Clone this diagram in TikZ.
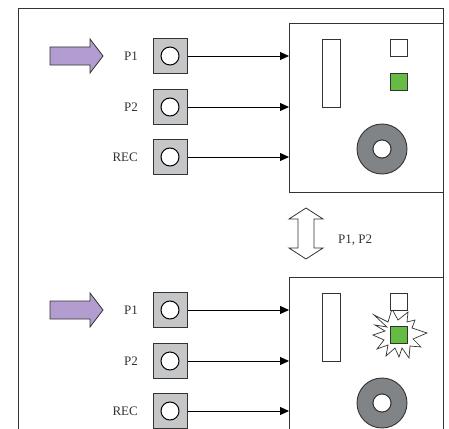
\documentclass[tikz,border=0pt]{standalone}
\usepackage{fontspec}
\setmainfont{Liberation Serif}
\usetikzlibrary{arrows.meta}
\definecolor{lav}{HTML}{B39DD0}
\definecolor{btngray}{HTML}{C4C6C8}
\definecolor{knob}{HTML}{808486}
\definecolor{ledgreen}{HTML}{66BB44}
\definecolor{linecol}{HTML}{333333}
\tikzset{
  lbl/.style={font=\fontsize{13}{14}\selectfont, text=black!80, anchor=east, inner sep=0pt},
  btn/.style={draw=linecol, line width=1pt, fill=btngray, minimum width=34pt, minimum height=35pt, inner sep=0pt},
  hole/.style={draw=black, line width=1pt, fill=white, circle, minimum size=18pt, inner sep=0pt},
  conn/.style={line width=0.8pt, -{Triangle[length=9pt,width=8pt]}},
  devbox/.style={draw=linecol, line width=0.9pt, fill=white},
  slot/.style={draw=linecol, line width=0.9pt, fill=white, minimum width=18pt, minimum height=68pt, inner sep=0pt},
  led/.style={draw=linecol, line width=0.8pt, minimum size=17pt, inner sep=0pt},
  purple/.style={draw=linecol, line width=0.8pt, fill=lav},
}
\begin{document}
\begin{tikzpicture}[x=1pt,y=-1pt]
\useasboundingbox (0,0) rectangle (449,428);
\fill[white] (0,0) rectangle (449,428);
% outer frame
\draw[linecol, line width=1pt] (18,440) -- (18,9) -- (443,9) -- (443,440);

\foreach \dy/\tag in {0/a,254/b}{
  \begin{scope}[yshift=-\dy pt]
  % device box
  \draw[devbox] (443,23) -- (289,23) -- (289,192) -- (443,192);
  % purple arrow
  \draw[purple] (50,47) -- (90,47) -- (90,39) -- (103,56) -- (90,73) -- (90,65) -- (50,65) -- cycle;
  % buttons
  \foreach \y/\t/\n in {56/P1/1,107/P2/2,157/REC/3}{
    \node[lbl] (l\tag\n) at (138,\y) {\t};
    \node[btn] (b\tag\n) at (170,\y) {};
    \node[hole] (h\tag\n) at (170,\y) {};
    \coordinate (t\tag\n) at (289,\y);
    \draw[conn] (b\tag\n.east) -- (t\tag\n);
  }
  % slot
  \node[slot] (s\tag) at (331,73) {};
  % knob
  \fill[knob, draw=linecol, line width=0.9pt, even odd rule] (382,149) circle (25) (382,149) circle (9);
  \draw[linecol, line width=0.9pt, fill=white] (382,149) circle (9);
  \end{scope}
}
% top LEDs
\node[led, fill=white] (wa) at (398.5,47.5) {};
\node[led, fill=ledgreen] (ga) at (398.5,81.5) {};
% bottom LEDs with starburst
\draw[linecol, line width=0.7pt, fill=white]
  (374,315) -- (388,322) -- (392,309) -- (398,320) -- (408,312) -- (407,322)
  -- (415,320) -- (412,328) -- (427,333) -- (413,339) -- (421,347) -- (410,346)
  -- (409,358) -- (402,348) -- (399,357) -- (395,348) -- (386,356) -- (388,345)
  -- (377,349) -- (384,340) -- (373,335) -- (385,331) -- (375,325) -- (387,327) -- cycle;
\node[led, fill=white] (wb) at (398.5,301.5) {};
\node[led, fill=ledgreen] (gb) at (398.5,335) {};
% double arrow between
\draw[linecol, line width=0.8pt, fill=white]
  (306,208) -- (323,219) -- (314,219) -- (314,248) -- (323,248) -- (306,259)
  -- (289,248) -- (298,248) -- (298,219) -- (289,219) -- cycle;
\node[font=\fontsize{13}{14}\selectfont, text=black!80, anchor=west, inner sep=0pt] (pl) at (338,240) {P1, P2};
\end{tikzpicture}
\end{document}
